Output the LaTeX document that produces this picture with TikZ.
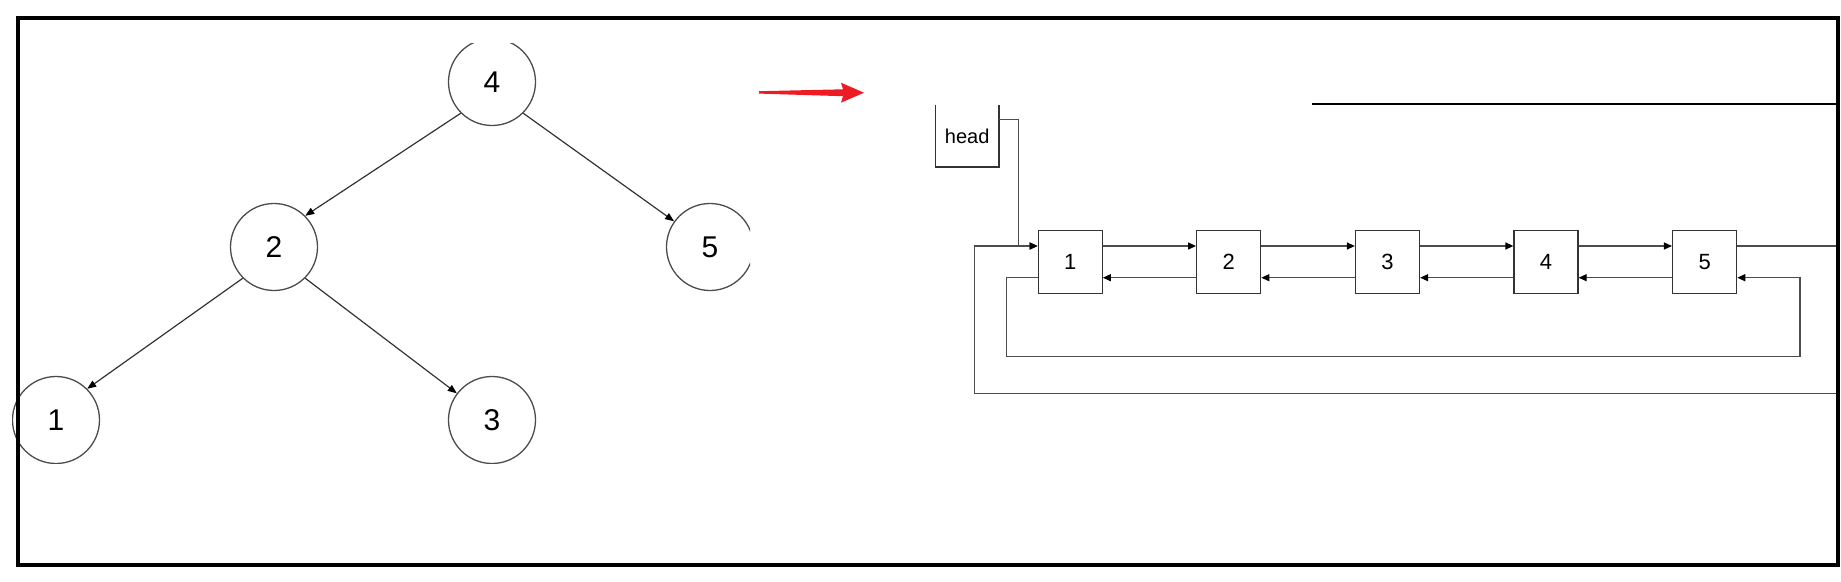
\documentclass[tikz,border=0pt]{standalone}
\usepackage{fontspec}
\setmainfont{Liberation Sans}
\usetikzlibrary{arrows.meta}
\definecolor{redarrow}{HTML}{ED1C24}
\begin{document}
\begin{tikzpicture}[x=1pt,y=-1pt,
  tnode/.style={circle,draw=black!70,line width=1.3pt,minimum size=87pt,inner sep=0pt,font=\fontsize{30}{30}\selectfont},
  tedge/.style={draw=black!80,line width=1.2pt,-{Triangle[length=9pt,width=7pt,black]}},
  lnode/.style={rectangle,draw=black!80,line width=1.3pt,minimum width=64pt,minimum height=63pt,inner sep=0pt,font=\fontsize{22}{22}\selectfont},
  ledge/.style={draw=black!70,line width=1.3pt,-{Triangle[length=8pt,width=7pt,black]}},
]
\useasboundingbox (0,0) rectangle (1841,581);

% tree
\begin{scope}
\clip (12,43) rectangle (750,463.5);
\node[tnode] (t4) at (492,82) {4};
\node[tnode] (t2) at (274,247) {2};
\node[tnode] (t5) at (710,247) {5};
\node[tnode] (t1) at (56,420) {1};
\node[tnode] (t3) at (492,420) {3};
\draw[tedge] (t4.south west) -- (t2.north east);
\draw[tedge] (t4.south east) -- (t5);
\draw[tedge] (t2.south west) -- (t1.north east);
\draw[tedge] (t2.south east) -- (t3);
\end{scope}

% red arrow
\fill[redarrow] (759,91.2) -- (843,89.3) -- (841,82.7) -- (864,92.7) -- (841,102.7) -- (843,96.2) -- (759,93.6) -- cycle;

% head
\node[minimum width=63pt,minimum height=62pt,inner sep=0pt,font=\fontsize{20}{20}\selectfont] (head) at (967.2,135.9) {head};
\draw[black!80,line width=1.3pt] (head.north west) -- (head.south west) -- (head.south east) -- (head.north east);

% top line
\draw[black,line width=1.5pt] (1312,104) -- (1838,104);

% list
\node[lnode] (n1) at (1070.2,261.7) {1};
\node[lnode] (n2) at (1228.7,261.7) {2};
\node[lnode] (n3) at (1387.5,261.7) {3};
\node[lnode] (n4) at (1546,261.7) {4};
\node[lnode] (n5) at (1704.6,261.7) {5};

\foreach \a/\b in {n1/n2,n2/n3,n3/n4,n4/n5}{
  \draw[ledge] ([yshift=15.7pt]\a.east) -- ([yshift=15.7pt]\b.west);
  \draw[ledge] ([yshift=-16pt]\b.west) -- ([yshift=-16pt]\a.east);
}

\draw[ledge] ([yshift=16.6pt]head.east) -| (1018.6,246) -- ([yshift=15.7pt]n1.west);
\draw[ledge] ([yshift=15.7pt]n5.east) -- (1838,246) -- (1838,393.3) -| (974.7,246) -- ([yshift=15.7pt]n1.west);
\draw[ledge] ([yshift=-16pt]n1.west) -| (1006.7,356.7) -| (1800,277.7) -- ([yshift=-16pt]n5.east);

% frame
\draw[black,line width=4pt] (18,18) rectangle (1838,564.7);
\end{tikzpicture}
\end{document}
